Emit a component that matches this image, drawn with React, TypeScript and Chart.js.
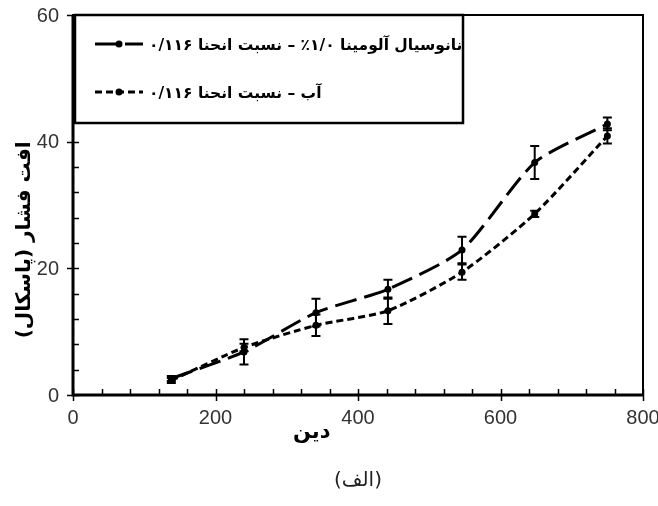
import React, { useEffect, useRef } from 'react';
import { Chart, registerables } from 'chart.js';

Chart.register(...registerables);

// ---- data ----
const xValues = [138, 240, 341, 442, 546, 648, 750];
const nanoValues = [2.6, 6.8, 13.0, 16.7, 22.9, 36.7, 42.8];
const nanoErrors = [0.4, 2.0, 2.2, 1.5, 2.1, 2.6, 1.0];
const waterValues = [2.3, 7.5, 11.0, 13.3, 19.4, 28.6, 40.9];
const waterErrors = [0.4, 0.6, 1.7, 2.1, 1.2, 0.5, 1.2];
const seriesLabels = [
  'نانوسیال آلومینا ۱/۰٪ – نسبت انحنا ۰/۱۱۶',
  'آب – نسبت انحنا ۰/۱۱۶',
];
const xTickLabels = ['0', '200', '400', '600', '800'];
const yTickLabels = ['0', '20', '40', '60'];
const xMin = 0, xMax = 800, xStep = 200, xMinorStep = 40;
const yMin = 0, yMax = 60, yStep = 20, yMinorStep = 4;
const xTitle = 'دین';
const yTitle = 'افت فشار (پاسکال)';
const caption = '(الف)';

const faFont = "'DejaVu Sans', sans-serif";
const tickFont = "'Liberation Sans Narrow', 'Liberation Sans', sans-serif";

const errorsByDataset = [nanoErrors, waterErrors];

const customPlugin = {
  id: 'custom',
  afterDatasetsDraw(chart: any) {
    const ctx = chart.ctx;
    const xs = chart.scales.x;
    const ys = chart.scales.y;
    ctx.save();
    ctx.strokeStyle = '#000';
    ctx.lineWidth = 2;
    chart.data.datasets.forEach((ds: any, di: number) => {
      const errs = errorsByDataset[di];
      ds.data.forEach((p: any, i: number) => {
        const e = errs[i];
        const px = xs.getPixelForValue(p.x);
        const top = ys.getPixelForValue(p.y + e);
        const bot = ys.getPixelForValue(p.y - e);
        ctx.beginPath();
        ctx.moveTo(px, top);
        ctx.lineTo(px, bot);
        ctx.moveTo(px - 4.5, top);
        ctx.lineTo(px + 4.5, top);
        ctx.moveTo(px - 4.5, bot);
        ctx.lineTo(px + 4.5, bot);
        ctx.stroke();
      });
    });
    ctx.restore();
  },
  afterDraw(chart: any) {
    const ctx = chart.ctx;
    const a = chart.chartArea;
    const xs = chart.scales.x;
    const ys = chart.scales.y;
    ctx.save();
    // frame
    ctx.strokeStyle = '#000';
    ctx.lineWidth = 2;
    ctx.strokeRect(a.left, a.top, a.right - a.left, a.bottom - a.top);
    ctx.lineWidth = 3;
    ctx.beginPath();
    ctx.moveTo(a.left, a.top);
    ctx.lineTo(a.left, a.bottom);
    ctx.lineTo(a.right, a.bottom);
    ctx.stroke();
    // ticks
    ctx.lineWidth = 1.5;
    ctx.beginPath();
    for (let v = xMin; v <= xMax; v += xMinorStep) {
      const px = Math.round(xs.getPixelForValue(v)) + 0.5;
      const major = v % xStep === 0;
      ctx.moveTo(px, a.bottom - 6);
      ctx.lineTo(px, a.bottom + (major ? 6 : 0));
    }
    for (let v = yMin; v <= yMax; v += yMinorStep) {
      const py = Math.round(ys.getPixelForValue(v)) + 0.5;
      const major = v % yStep === 0;
      ctx.moveTo(a.left + 6, py);
      ctx.lineTo(a.left - (major ? 6 : 0), py);
    }
    ctx.stroke();

    // tick labels
    ctx.fillStyle = '#333';
    ctx.font = `20px ${tickFont}`;
    ctx.textBaseline = 'middle';
    ctx.textAlign = 'center';
    xTickLabels.forEach((t) => {
      ctx.fillText(t, xs.getPixelForValue(Number(t)), a.bottom + 23);
    });
    ctx.textAlign = 'right';
    yTickLabels.forEach((t) => {
      ctx.fillText(t, a.left - 14, ys.getPixelForValue(Number(t)) + 1);
    });

    // legend
    const lx = a.left + 2, ly = a.top;
    const lw = 388, lh = 108;
    ctx.fillStyle = '#fff';
    ctx.fillRect(lx, ly, lw, lh);
    ctx.strokeStyle = '#000';
    ctx.lineWidth = 2.5;
    ctx.strokeRect(lx, ly, lw, lh);
    const rows = [ly + 29, ly + 77];
    chart.data.datasets.forEach((ds: any, di: number) => {
      const y = rows[di];
      ctx.save();
      ctx.strokeStyle = '#000';
      ctx.lineWidth = 3;
      ctx.setLineDash(ds.borderDash);
      ctx.beginPath();
      ctx.moveTo(lx + 20, y);
      ctx.lineTo(lx + 68, y);
      ctx.stroke();
      ctx.setLineDash([]);
      ctx.fillStyle = '#000';
      ctx.beginPath();
      ctx.arc(lx + 44, y, 3.5, 0, Math.PI * 2);
      ctx.fill();
      ctx.font = `bold 15.5px ${faFont}`;
      ctx.direction = 'rtl';
      ctx.textAlign = 'left';
      ctx.textBaseline = 'middle';
      ctx.fillText(ds.label, lx + 74, y + 2);
      ctx.restore();
    });

    // axis titles
    ctx.fillStyle = '#000';
    ctx.direction = 'rtl';
    ctx.font = `bold 21px ${faFont}`;
    ctx.textAlign = 'center';
    ctx.textBaseline = 'middle';
    ctx.fillText(xTitle, xs.getPixelForValue(335), a.bottom + 38);
    ctx.save();
    ctx.translate(25, ys.getPixelForValue(24.5));
    ctx.rotate(-Math.PI / 2);
    ctx.font = `bold 20px ${faFont}`;
    ctx.fillText(yTitle, 0, 0);
    ctx.restore();
    ctx.font = `20px ${faFont}`;
    ctx.fillStyle = '#222';
    ctx.fillText(caption, (a.left + a.right) / 2, a.bottom + 86);
    ctx.restore();
  },
};

export default function App() {
  const ref = useRef<HTMLCanvasElement>(null);
  useEffect(() => {
    document.body.style.margin = '0';
    const chart = new Chart(ref.current as HTMLCanvasElement, {
      type: 'line',
      data: {
        datasets: [
          {
            label: seriesLabels[0],
            data: xValues.map((x, i) => ({ x, y: nanoValues[i] })),
            borderColor: '#000',
            backgroundColor: '#000',
            borderWidth: 3,
            borderDash: [22, 8],
            pointRadius: 3.5,
            pointBackgroundColor: '#000',
            pointBorderWidth: 0,
            tension: 0.22,
            fill: false,
          },
          {
            label: seriesLabels[1],
            data: xValues.map((x, i) => ({ x, y: waterValues[i] })),
            borderColor: '#000',
            backgroundColor: '#000',
            borderWidth: 3,
            borderDash: [7, 4],
            pointRadius: 3.5,
            pointBackgroundColor: '#000',
            pointBorderWidth: 0,
            tension: 0.22,
            fill: false,
          },
        ],
      },
      options: {
        responsive: false,
        animation: false,
        devicePixelRatio: 1,
        layout: { padding: { left: 0, top: 15, right: 15, bottom: 0 } },
        plugins: {
          legend: { display: false },
          tooltip: { enabled: false },
          title: { display: false },
        },
        scales: {
          x: {
            type: 'linear',
            min: xMin,
            max: xMax,
            grid: { display: false },
            border: { display: false },
            ticks: { display: false, stepSize: xStep },
            afterFit(scale: any) {
              scale.height = 111;
            },
          },
          y: {
            type: 'linear',
            min: yMin,
            max: yMax,
            grid: { display: false },
            border: { display: false },
            ticks: { display: false, stepSize: yStep },
            afterFit(scale: any) {
              scale.width = 73;
            },
          },
        },
      },
      plugins: [customPlugin],
    } as any);
    return () => chart.destroy();
  }, []);
  return (
    <div style={{ position: 'absolute', left: 0, top: 0, width: 658, height: 506, background: '#fff' }}>
      <canvas ref={ref} width={658} height={506} />
    </div>
  );
}
